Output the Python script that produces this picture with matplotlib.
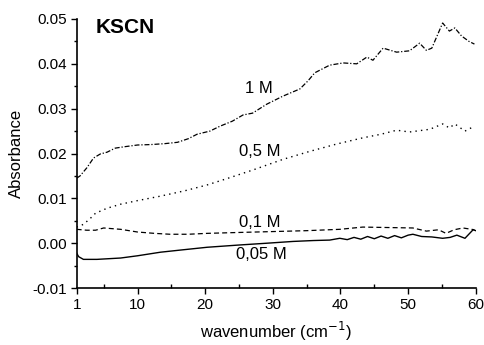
import matplotlib
matplotlib.use("Agg")
import matplotlib.pyplot as plt
from matplotlib.ticker import MultipleLocator, FixedLocator

plt.rcParams['font.family'] = ['Liberation Sans', 'DejaVu Sans']

# 1 M (dash-dot)
x_1M = [1.0, 1.5, 2.5, 3.5, 4.5, 5.5, 6.7, 8, 10, 12, 14, 15.9, 17.5, 18.8, 20.7, 22.2, 24, 25.6, 27,
        29.1, 31.5, 34, 35.2, 36.2, 38.4, 40.4, 42.4, 43.9, 44.8, 46.3, 48.3, 50.2, 51.7, 52.7, 53.5,
        55.1, 56.1, 56.9, 57.9, 59.0, 59.8]
y_1M = [0.0145, 0.0150, 0.0168, 0.0190, 0.0199, 0.0203, 0.0212, 0.0215, 0.0219, 0.0220, 0.0222, 0.0225,
        0.0233, 0.0243, 0.0250, 0.0261, 0.0272, 0.0286, 0.0290, 0.0310, 0.0328, 0.0344, 0.0362, 0.0380,
        0.0397, 0.0402, 0.0400, 0.0415, 0.0408, 0.0435, 0.0426, 0.0429, 0.0446, 0.0430, 0.0435,
        0.0491, 0.0473, 0.0480, 0.0462, 0.0450, 0.0444]

# 0,5 M (dotted)
x_05M = [1.0, 2.0, 3.0, 3.8, 5.5, 7.5, 10, 13.4, 17, 20.3, 23, 27, 31.5, 35.5, 39.4, 43.3, 46, 48.3,
         50.2, 53.2, 55.1, 56.1, 56.9, 58.4, 59.8]
y_05M = [0.0036, 0.0042, 0.0055, 0.0067, 0.0078, 0.0087, 0.0095, 0.0105, 0.0117, 0.0130, 0.0143,
         0.0163, 0.0187, 0.0205, 0.0221, 0.0235, 0.0243, 0.0252, 0.0248, 0.0254, 0.0266, 0.0257,
         0.0266, 0.0250, 0.0261]

# 0,1 M (dashed)
x_01M = [1.0, 2.5, 3.8, 5.0, 7.5, 10, 12.5, 14.8, 17.5, 20.3, 25, 30, 35, 39.9, 43.3, 47, 50.7, 52.7,
         54.5, 55.6, 56.8, 58.1, 59.8]
y_01M = [0.0031, 0.0029, 0.0029, 0.0034, 0.0031, 0.0025, 0.0022, 0.0020, 0.0020, 0.0022, 0.0024,
         0.0026, 0.0028, 0.0031, 0.0036, 0.0035, 0.0034, 0.0027, 0.0030, 0.0022, 0.0030, 0.0034, 0.0030]

# 0,05 M (solid)
x_005M = [1.0, 1.3, 2.0, 4.0, 7.5, 10, 13.4, 16.5, 20.3, 25, 29.1, 33, 36, 38.4, 39.9, 41, 42, 43, 44,
          45, 46, 47, 48, 49, 50, 50.7, 52, 53.5, 55.1, 56.2, 57.2, 58.4, 59.6, 60.0]
y_005M = [-0.0022, -0.0030, -0.0036, -0.0036, -0.0033, -0.0028, -0.0020, -0.0015, -0.0009, -0.0004,
          0.0000, 0.0004, 0.0006, 0.0007, 0.0011, 0.0008, 0.0013, 0.0009, 0.0015, 0.0010, 0.0016,
          0.0011, 0.0017, 0.0012, 0.0018, 0.0020, 0.0015, 0.0014, 0.0011, 0.0013, 0.0018, 0.0011,
          0.0030, 0.0028]

x_ticks = [1, 10, 20, 30, 40, 50, 60]
y_ticks = [-0.01, 0.0, 0.01, 0.02, 0.03, 0.04, 0.05]
y_ticklabels = ['-0.01', '0.00', '0.01', '0.02', '0.03', '0.04', '0.05']

fig = plt.figure(figsize=(4.85, 3.45), dpi=100)
ax = fig.add_axes([0.158, 0.165, 0.823, 0.78])

ax.plot(x_1M, y_1M, color='black', lw=0.9, linestyle=(0, (4, 1.5, 1, 1.5)))
ax.plot(x_05M, y_05M, color='black', lw=1.0, linestyle=(0, (1, 3)))
ax.plot(x_01M, y_01M, color='black', lw=0.9, linestyle=(0, (4, 2.5)))
ax.plot(x_005M, y_005M, color='black', lw=1.0, linestyle='-')

ax.set_xlim(1, 60)
ax.set_ylim(-0.01, 0.05)
ax.xaxis.set_major_locator(FixedLocator(x_ticks))
ax.xaxis.set_minor_locator(FixedLocator([5, 15, 25, 35, 45, 55]))
ax.set_yticks(y_ticks)
ax.set_yticklabels(y_ticklabels)
ax.yaxis.set_minor_locator(MultipleLocator(0.005))

for s in ['top', 'right']:
    ax.spines[s].set_visible(False)
for s in ['left', 'bottom']:
    ax.spines[s].set_linewidth(1.2)

ax.tick_params(axis='both', which='major', direction='out', length=4, width=1, labelsize=11, pad=3)
ax.tick_params(axis='x', which='minor', direction='in', length=3, width=1)
ax.tick_params(axis='y', which='minor', direction='out', length=2, width=1)

ax.set_xlabel('wavenumber (cm$^{-1}$)', fontsize=12, labelpad=6)
ax.set_ylabel('Absorbance', fontsize=12, labelpad=6)

ax.text(3.76, 0.0482, 'KSCN', fontsize=15, fontweight='bold', va='center', ha='left')
ax.text(27.9, 0.0346, '1 M', fontsize=12, ha='center', va='center')
ax.text(28.0, 0.0205, '0,5 M', fontsize=12, ha='center', va='center')
ax.text(28.0, 0.0047, '0,1 M', fontsize=12, ha='center', va='center')
ax.text(28.3, -0.0025, '0,05 M', fontsize=12, ha='center', va='center')

fig.savefig('out.png', dpi=100)
